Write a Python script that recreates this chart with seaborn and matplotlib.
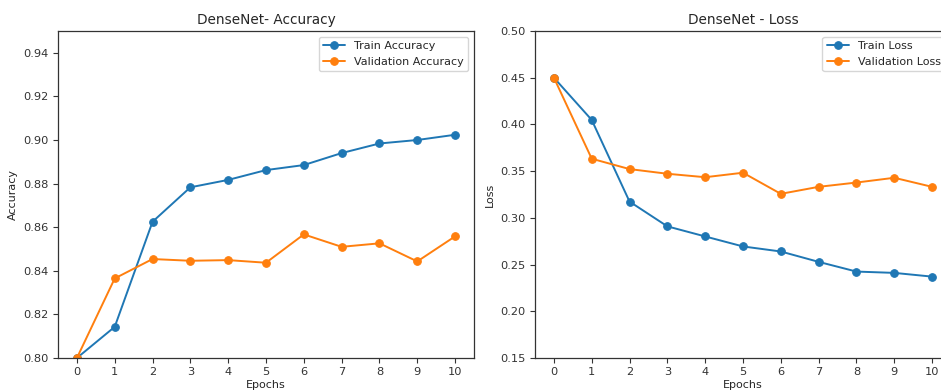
import matplotlib
matplotlib.use("Agg")
import matplotlib.pyplot as plt
import seaborn as sns
import numpy as np

sns.set_style("white")
plt.rcParams['font.family'] = ['DejaVu Sans']

epochs = list(range(11))
train_acc = [0.800, 0.8143, 0.8625, 0.8783, 0.8817, 0.8862, 0.8885, 0.8940, 0.8984, 0.9000, 0.9024]
val_acc = [0.800, 0.8365, 0.8454, 0.8446, 0.8449, 0.8437, 0.8567, 0.8510, 0.8526, 0.8443, 0.8558]
train_loss = [0.450, 0.4048, 0.3174, 0.2909, 0.2801, 0.2694, 0.2640, 0.2529, 0.2425, 0.2411, 0.2371]
val_loss = [0.450, 0.3633, 0.3522, 0.3472, 0.3435, 0.3483, 0.3257, 0.3332, 0.3378, 0.3429, 0.3332]

blue = "#1f77b4"
orange = "#ff7f0e"

W, H = 941, 392
fig = plt.figure(figsize=(W / 100, H / 100), dpi=100)
ax1 = fig.add_axes([58 / W, (H - 358) / H, 416 / W, 327 / H])
ax2 = fig.add_axes([535 / W, (H - 358) / H, 416 / W, 327 / H])

def style(ax):
    for s in ax.spines.values():
        s.set_visible(True)
        s.set_color("#333333")
        s.set_linewidth(0.9)
    ax.tick_params(axis="both", which="both", direction="out", length=3.5, width=0.8,
                   colors="#333333", labelsize=8.2, bottom=True, left=True, pad=3)

kw = dict(marker="o", markersize=5.5, linewidth=1.4)

sns.lineplot(x=epochs, y=train_acc, ax=ax1, color=blue, markeredgecolor=blue,
             label="Train Accuracy", **kw)
sns.lineplot(x=epochs, y=val_acc, ax=ax1, color=orange, markeredgecolor=orange,
             label="Validation Accuracy", **kw)
ax1.set_ylim(0.80, 0.95)
ax1.set_xlim(-0.5, 10.5)
ax1.set_xticks(epochs)
ax1.set_yticks([0.80, 0.82, 0.84, 0.86, 0.88, 0.90, 0.92, 0.94])
ax1.set_title("DenseNet- Accuracy", fontsize=9.8, pad=5)
ax1.set_xlabel("Epochs", fontsize=8, labelpad=2)
ax1.set_ylabel("Accuracy", fontsize=8, labelpad=4)
ax1.legend(loc="upper right", fontsize=8)
style(ax1)

sns.lineplot(x=epochs, y=train_loss, ax=ax2, color=blue, markeredgecolor=blue,
             label="Train Loss", **kw)
sns.lineplot(x=epochs, y=val_loss, ax=ax2, color=orange, markeredgecolor=orange,
             label="Validation Loss", **kw)
ax2.set_ylim(0.15, 0.50)
ax2.set_xlim(-0.5, 10.5)
ax2.set_xticks(epochs)
ax2.set_yticks([0.15, 0.20, 0.25, 0.30, 0.35, 0.40, 0.45, 0.50])
ax2.set_title("DenseNet - Loss", fontsize=9.8, pad=5)
ax2.set_xlabel("Epochs", fontsize=8, labelpad=2)
ax2.set_ylabel("Loss", fontsize=8, labelpad=4)
ax2.legend(loc="upper right", fontsize=8)
style(ax2)

fig.savefig("out.png", dpi=100)
